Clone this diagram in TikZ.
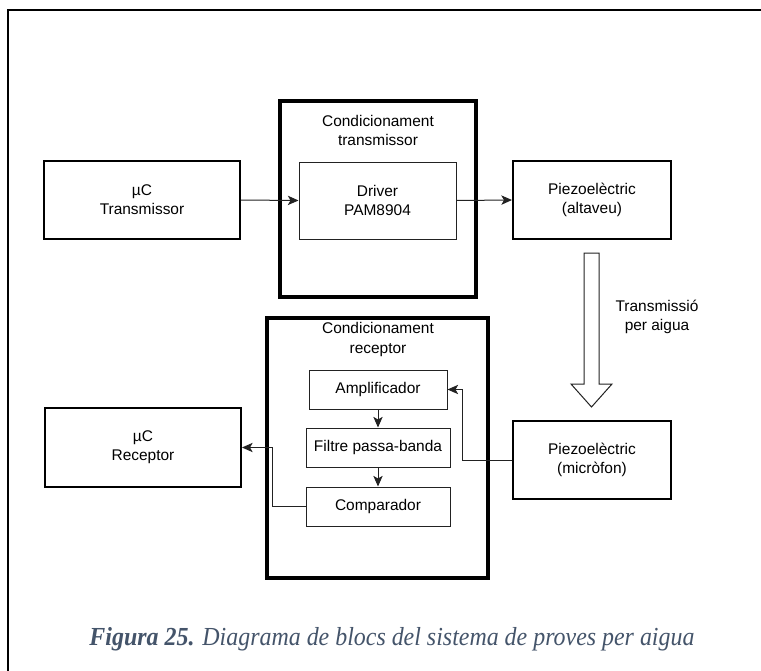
\documentclass[tikz,border=0pt]{standalone}
\usepackage{fontspec}
\setmainfont{Liberation Sans}
\newfontfamily\capfont{Liberation Serif}
\usetikzlibrary{arrows.meta}
\definecolor{capblue}{HTML}{44546A}
\definecolor{linegray}{HTML}{222222}
\begin{document}
\begin{tikzpicture}[x=0.75pt,y=-0.75pt,
  txt/.style={font=\fontsize{11.6pt}{14.5pt}\selectfont, align=center, text=black},
  bigbox/.style={draw=black, line width=1.5pt, txt, inner sep=0pt},
  smallbox/.style={draw=linegray, line width=0.75pt, txt, inner sep=0pt},
  groupbox/.style={draw=black, line width=3pt, inner sep=0pt},
  conn/.style={draw=linegray, line width=0.75pt, -{Stealth[length=8pt,width=7pt,inset=2pt]}},
]
\useasboundingbox (0,0) rectangle (761,671);
\fill[white] (0,0) rectangle (761,671);
\draw[line width=1.5pt] (8,700) -- (8,10) -- (780,10);

% group boxes
\node[groupbox, minimum width=147pt, minimum height=147pt] (ct) at (378,199) {};
\node[groupbox, minimum width=165.75pt, minimum height=195pt] (cr) at (377.5,448) {};
\node[txt] (ctl) at (378,130.5) {Condicionament\\transmissor};
\node[txt] (crl) at (378,339.5) {Condicionament\\receptor};

% blocks
\node[bigbox, minimum width=147pt, minimum height=58.5pt] (uct) at (142,200) {µC\\Transmissor};
\node[smallbox, minimum width=117.75pt, minimum height=57.75pt] (drv) at (377.5,200.5) {Driver\\PAM8904};
\node[bigbox, minimum width=118.5pt, minimum height=58.5pt] (pza) at (592,200) {Piezoelèctric\\(altaveu)};

\node[bigbox, minimum width=147pt, minimum height=59.25pt] (ucr) at (143,447.5) {µC\\Receptor};
\node[smallbox, minimum width=103.5pt, minimum height=29.25pt] (amp) at (378,389.5) {Amplificador};
\node[smallbox, minimum width=108pt, minimum height=29.25pt] (flt) at (378,447.5) {Filtre passa-banda};
\node[smallbox, minimum width=108pt, minimum height=29.25pt] (cmp) at (378,506.5) {Comparador};
\node[bigbox, minimum width=118.5pt, minimum height=58.5pt] (pzm) at (592,460) {Piezoelèctric\\(micròfon)};

% connectors
\draw[conn] (uct.east) -- (drv.west);
\draw[conn] (drv.east) -- (pza.west);
\draw[conn] (amp.south) -- (flt.north);
\draw[conn] (flt.south) -- (cmp.north);
\draw[conn] (pzm.west) -- ++(-50,0) |- (amp.east);
\draw[conn] (cmp.west) -- ++(-33,0) |- (ucr.east);

% block arrow
\draw[draw=linegray, line width=0.75pt, fill=white]
  (584,253) -- (599,253) -- (599,384) -- (612,384) -- (591.5,407)
  -- (571,384) -- (584,384) -- cycle;
\node[txt] (tpa) at (657,317) {Transmissió\\per aigua};

% caption
\node[anchor=base, text=capblue, xscale=0.92, font=\capfont\fontsize{19.5pt}{21pt}\selectfont\itshape] (cap) at (392,645)
  {\textbf{Figura 25.} Diagrama de blocs del sistema de proves per aigua};
\end{tikzpicture}
\end{document}
